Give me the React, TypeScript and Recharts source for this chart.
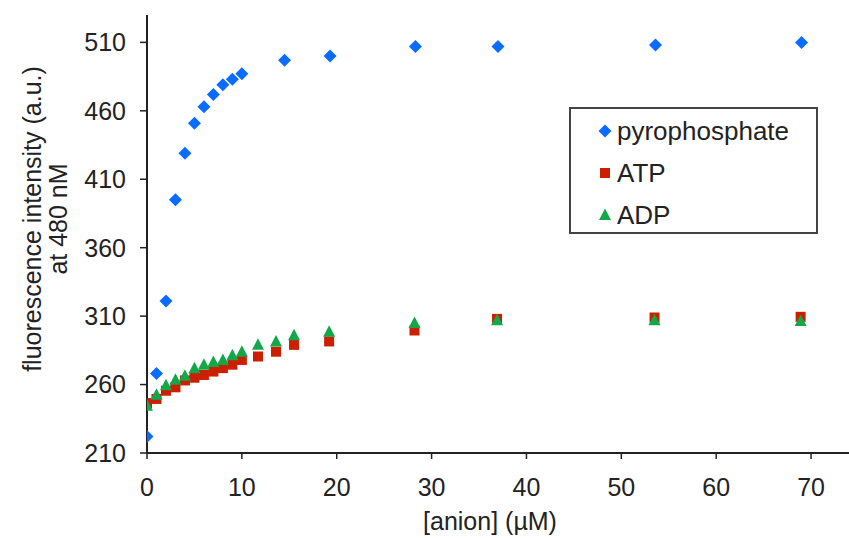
import React from 'react';
import { ScatterChart, Scatter, XAxis, YAxis, Legend } from 'recharts';

// concentrations (µM)
const concPyro = [0, 1, 2, 3, 4, 5, 6, 7, 8, 9, 10, 14.5, 19.3, 28.3, 37, 53.6, 69];
const pyrophosphate = [222, 268, 321, 395, 429, 451, 463, 472, 479, 483, 487, 497, 500, 507, 507, 508, 510];

const concNuc = [0, 1, 2, 3, 4, 5, 6, 7, 8, 9, 10, 11.7, 13.6, 15.5, 19.2, 28.2, 36.9, 53.5, 68.9];
const atp = [246.5, 249.5, 255.5, 258, 263, 265, 267, 269.5, 272, 274.5, 278, 280.5, 284, 289, 291.5, 299.5, 308, 309, 309.5];
const adp = [244.5, 252.5, 259.5, 263.5, 266.5, 272, 274.5, 276.5, 278, 281.5, 284, 289, 291.5, 296, 298.5, 305, 307, 307, 306.5];

const xTicks = [0, 10, 20, 30, 40, 50, 60, 70];
const yTicks = [210, 260, 310, 360, 410, 460, 510];

const BLUE = '#0a6cff';
const RED = '#cc1f00';
const GREEN = '#12a84a';
const FONT = '"Liberation Sans", Arial, sans-serif';
const TEXT = '#222';

const pyroData = concPyro.map((x, i) => ({ x, y: pyrophosphate[i] }));
const atpData = concNuc.map((x, i) => ({ x, y: atp[i] }));
const adpData = concNuc.map((x, i) => ({ x, y: adp[i] }));

const Diamond = ({ cx, cy, fill }: any) => (
  <path d={`M${cx},${cy - 6.5}L${cx + 6.5},${cy}L${cx},${cy + 6.5}L${cx - 6.5},${cy}Z`} fill={fill} />
);
const Square = ({ cx, cy, fill }: any) => <rect x={cx - 5} y={cy - 5} width={10} height={10} fill={fill} />;
const Triangle = ({ cx, cy, fill }: any) => (
  <path d={`M${cx},${cy - 6.5}L${cx + 6},${cy + 5}L${cx - 6},${cy + 5}Z`} fill={fill} />
);

const legendItems = [
  { name: 'pyrophosphate', color: BLUE, Icon: Diamond },
  { name: 'ATP', color: RED, Icon: Square },
  { name: 'ADP', color: GREEN, Icon: Triangle },
];

const LegendBox = () => (
  <div
    style={{
      width: 245,
      height: 123,
      border: '2px solid #444',
      background: '#fff',
      fontFamily: FONT,
      fontSize: 26,
      color: TEXT,
      position: 'relative',
    }}
  >
    {legendItems.map((it, i) => (
      <div key={it.name} style={{ position: 'absolute', left: 26, top: 7 + i * 42, height: 30, display: 'flex', alignItems: 'center' }}>
        <svg width={16} height={16} style={{ marginRight: 4 }}>
          <it.Icon cx={8} cy={8} fill={it.color} />
        </svg>
        <span>{it.name}</span>
      </div>
    ))}
  </div>
);

// two-line rotated y title
const YTitle = () => (
  <g fontFamily={FONT} fontSize={25} fill={TEXT}>
    <text transform="translate(32,219) rotate(-90)" textAnchor="middle" dominantBaseline="central">
      fluorescence intensity (a.u.)
    </text>
    <text transform="translate(58,219) rotate(-90)" textAnchor="middle" dominantBaseline="central">
      at 480 nM
    </text>
  </g>
);

const XTitle = () => (
  <text x={490} y={530} textAnchor="middle" fontFamily={FONT} fontSize={25} fill={TEXT}>
    [anion] (µM)
  </text>
);

export default function App() {
  // fixed so the page never scrolls and the chart fills the whole window
  return (
    <div style={{ position: 'fixed', left: 0, top: 0, width: 849, height: 538, fontFamily: FONT, background: '#fff' }}>
      <ScatterChart width={849} height={538} margin={{ top: 15, right: 0, bottom: 0, left: 0 }}>
        <XAxis
          type="number"
          dataKey="x"
          domain={[0, 74]}
          ticks={xTicks}
          interval={0}
          allowDataOverflow
          height={85}
          tickSize={6}
          tickMargin={19}
          axisLine={{ stroke: TEXT, strokeWidth: 2 }}
          tickLine={{ stroke: TEXT, strokeWidth: 1.5 }}
          tick={{ fontSize: 25, fill: TEXT, fontFamily: FONT }}
          label={{ content: () => <XTitle /> }}
        />
        <XAxis
          xAxisId="top"
          orientation="top"
          type="number"
          domain={[0, 74]}
          height={0}
          tick={false}
          tickLine={false}
          axisLine={{ stroke: '#555', strokeWidth: 2 }}
        />
        <YAxis
          type="number"
          dataKey="y"
          domain={[210, 530]}
          ticks={yTicks}
          interval={0}
          allowDataOverflow
          width={147}
          tickSize={7}
          tickMargin={14}
          axisLine={{ stroke: TEXT, strokeWidth: 2 }}
          tickLine={{ stroke: TEXT, strokeWidth: 1.5 }}
          tick={{ fontSize: 25, fill: TEXT, fontFamily: FONT }}
          label={{ content: () => <YTitle /> }}
        />
        <Legend
          layout="vertical"
          align="center"
          verticalAlign="middle"
          wrapperStyle={{ left: 569, top: 107, width: 249, height: 127 }}
          content={() => <LegendBox />}
        />
        <Scatter name="pyrophosphate" data={pyroData} fill={BLUE} shape={Diamond} isAnimationActive={false} />
        <Scatter name="ATP" data={atpData} fill={RED} shape={Square} isAnimationActive={false} />
        <Scatter name="ADP" data={adpData} fill={GREEN} shape={Triangle} isAnimationActive={false} />
      </ScatterChart>
    </div>
  );
}
